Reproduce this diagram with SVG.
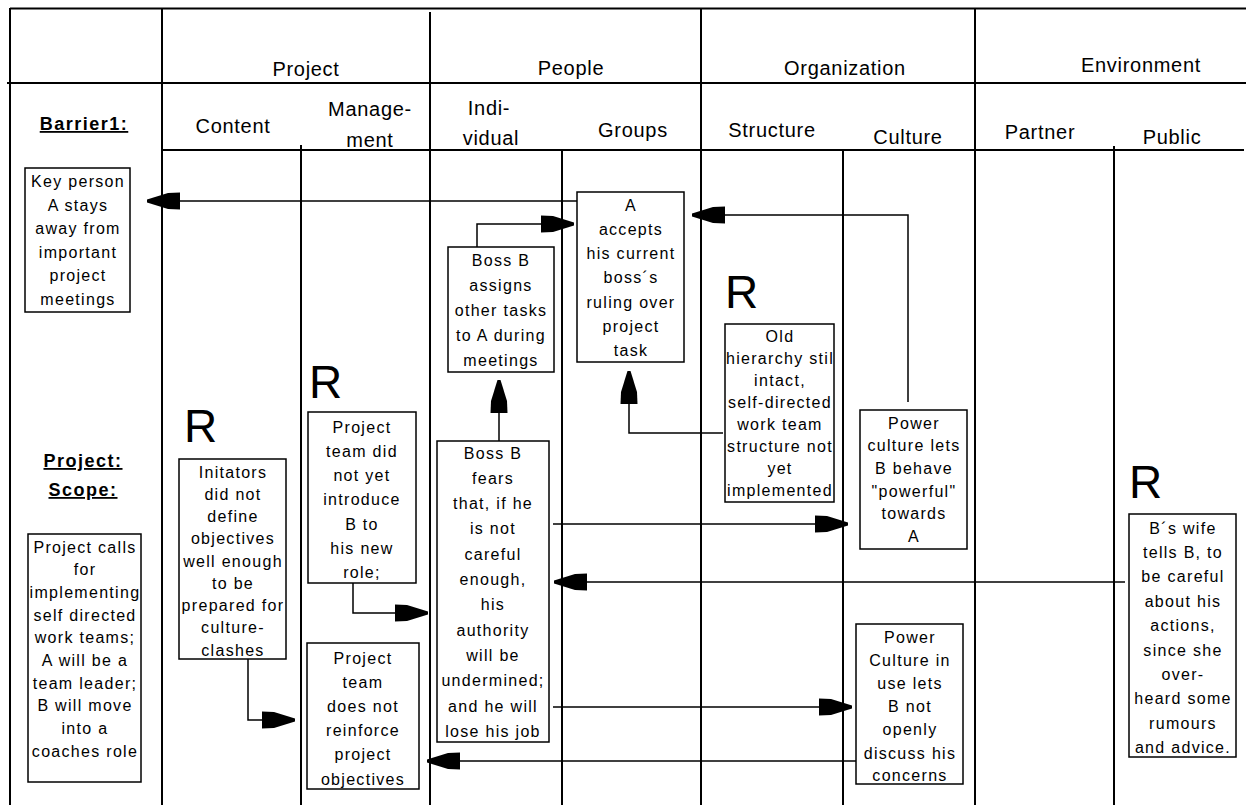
<svg xmlns="http://www.w3.org/2000/svg" width="1246" height="805" viewBox="0 0 1246 805">
<style>
.grid{stroke:#000;stroke-width:2;fill:none}
.box{fill:#fff;stroke:#000;stroke-width:1.5}
.conn{stroke:#000;stroke-width:1.5;fill:none;marker-end:url(#ah)}
text{font-family:"Liberation Sans",Arial,sans-serif;fill:#000}
.t{font-size:16px;letter-spacing:1.3px;text-anchor:middle}
.h{font-size:20px;letter-spacing:0.7px;text-anchor:middle}
.lbl{font-size:18px;font-weight:bold;letter-spacing:1.5px;text-anchor:middle;text-decoration:underline}
.r{font-size:46px}
</style>
<defs>
<marker id="ah" viewBox="0 -10 34 20" refX="33" refY="0" markerWidth="34" markerHeight="20" markerUnits="userSpaceOnUse" orient="auto">
<path d="M0,-8.5 L12,-8 L33,-1.5 L33,1.5 L12,8 L0,8.5 Z" fill="#000"/>
</marker>
</defs>
<rect width="1246" height="805" fill="#fff"/>
<g id="grid" class="grid">
<line x1="10" y1="8.5" x2="1246" y2="8.5"/>
<line x1="7" y1="83" x2="1246" y2="83"/>
<line x1="162" y1="150" x2="1244" y2="150"/>
<line x1="10" y1="8" x2="10" y2="805"/>
<line x1="162" y1="8" x2="162" y2="805"/>
<line x1="430" y1="12" x2="430" y2="805"/>
<line x1="701" y1="8" x2="701" y2="805"/>
<line x1="975" y1="8" x2="975" y2="805"/>
<line x1="301" y1="145" x2="301" y2="805"/>
<line x1="562" y1="150" x2="562" y2="805"/>
<line x1="843" y1="150" x2="843" y2="805"/>
<line x1="1114" y1="146" x2="1114" y2="805"/>
</g>
<g id="headers">
<text class="h" x="306" y="76">Project</text>
<text class="h" x="571" y="75">People</text>
<text class="h" x="845" y="75">Organization</text>
<text class="h" x="1141" y="72">Environment</text>
<text class="h" x="233" y="133">Content</text>
<text class="h" x="370" y="116">Manage-</text>
<text class="h" x="370" y="147">ment</text>
<text class="h" x="489" y="115">Indi-</text>
<text class="h" x="491" y="145">vidual</text>
<text class="h" x="633" y="137">Groups</text>
<text class="h" x="772" y="137">Structure</text>
<text class="h" x="908" y="144">Culture</text>
<text class="h" x="1040" y="139">Partner</text>
<text class="h" x="1172" y="144">Public</text>
<text class="lbl" x="84" y="130">Barrier1:</text>
<text class="lbl" x="83" y="467">Project:</text>
<text class="lbl" x="83" y="496">Scope:</text>
</g>
<g id="r-marks">
<text class="r" x="725" y="308">R</text>
<text class="r" x="309" y="398">R</text>
<text class="r" x="184" y="442">R</text>
<text class="r" x="1129" y="498">R</text>
</g>
<g id="connectors">
<path class="conn" d="M577,201 H147"/>
<path class="conn" d="M477,247 V224 H574"/>
<path class="conn" d="M908,402 V215 H692"/>
<path class="conn" d="M499,441 V380"/>
<path class="conn" d="M723,433 H629 V371"/>
<path class="conn" d="M553,524 H848"/>
<path class="conn" d="M1125,582 H554"/>
<path class="conn" d="M553,707 H852"/>
<path class="conn" d="M856,761 H427"/>
<path class="conn" d="M353,583 V613 H428"/>
<path class="conn" d="M248,659 V720 H295"/>
</g>
<g id="n-keyperson">
<rect class="box" x="25" y="168" width="105" height="144"/>
<text class="t"><tspan x="78" y="187">Key person</tspan><tspan x="78" y="210.5">A stays</tspan><tspan x="78" y="234">away from</tspan><tspan x="78" y="257.5">important</tspan><tspan x="78" y="281">project</tspan><tspan x="78" y="304.5">meetings</tspan></text>
</g>
<g id="n-assigns">
<rect class="box" x="448" y="247" width="106" height="125"/>
<text class="t"><tspan x="501" y="265.5">Boss B</tspan><tspan x="501" y="290.5">assigns</tspan><tspan x="501" y="315.5">other tasks</tspan><tspan x="501" y="340.5">to A during</tspan><tspan x="501" y="365.5">meetings</tspan></text>
</g>
<g id="n-accepts">
<rect class="box" x="577" y="192" width="107" height="170"/>
<text class="t"><tspan x="631" y="210.5">A</tspan><tspan x="631" y="234.8">accepts</tspan><tspan x="631" y="259">his current</tspan><tspan x="631" y="283.4">boss´s</tspan><tspan x="631" y="307.7">ruling over</tspan><tspan x="631" y="332">project</tspan><tspan x="631" y="356.3">task</tspan></text>
</g>
<g id="n-hierarchy">
<rect class="box" x="725" y="324" width="109" height="178"/>
<text class="t"><tspan x="780" y="342">Old</tspan><tspan x="780" y="364">hierarchy stil</tspan><tspan x="780" y="386">intact,</tspan><tspan x="780" y="408">self-directed</tspan><tspan x="780" y="430">work team</tspan><tspan x="780" y="452">structure not</tspan><tspan x="780" y="474">yet</tspan><tspan x="780" y="496">implemented</tspan></text>
</g>
<g id="n-powerful">
<rect class="box" x="860" y="410" width="107" height="139"/>
<text class="t"><tspan x="914" y="428.5">Power</tspan><tspan x="914" y="451">culture lets</tspan><tspan x="914" y="474">B behave</tspan><tspan x="914" y="496.5">"powerful"</tspan><tspan x="914" y="519">towards</tspan><tspan x="914" y="542">A</tspan></text>
</g>
<g id="n-wife">
<rect class="box" x="1129" y="514" width="107" height="243"/>
<text class="t"><tspan x="1183" y="533.5">B´s wife</tspan><tspan x="1183" y="557.9">tells B, to</tspan><tspan x="1183" y="582.3">be careful</tspan><tspan x="1183" y="606.7">about his</tspan><tspan x="1183" y="631.1">actions,</tspan><tspan x="1183" y="655.5">since she</tspan><tspan x="1183" y="679.9">over-</tspan><tspan x="1183" y="704.3">heard some</tspan><tspan x="1183" y="728.7">rumours</tspan><tspan x="1183" y="753">and advice.</tspan></text>
</g>
<g id="n-concerns">
<rect class="box" x="856" y="624" width="107" height="160"/>
<text class="t"><tspan x="910" y="642.5">Power</tspan><tspan x="910" y="665.7">Culture in</tspan><tspan x="910" y="688.9">use lets</tspan><tspan x="910" y="712.1">B not</tspan><tspan x="910" y="735.3">openly</tspan><tspan x="910" y="758.5">discuss his</tspan><tspan x="910" y="781">concerns</tspan></text>
</g>
<g id="n-fears">
<rect class="box" x="437" y="441" width="112" height="301"/>
<text class="t"><tspan x="493" y="458.5">Boss B</tspan><tspan x="493" y="483.8">fears</tspan><tspan x="493" y="509.1">that, if he</tspan><tspan x="493" y="534.4">is not</tspan><tspan x="493" y="559.7">careful</tspan><tspan x="493" y="585">enough,</tspan><tspan x="493" y="610.3">his</tspan><tspan x="493" y="635.6">authority</tspan><tspan x="493" y="660.9">will be</tspan><tspan x="493" y="686.2">undermined;</tspan><tspan x="493" y="711.5">and he will</tspan><tspan x="493" y="736.8">lose his job</tspan></text>
</g>
<g id="n-introduce">
<rect class="box" x="308" y="412" width="108" height="171"/>
<text class="t"><tspan x="362" y="432.5">Project</tspan><tspan x="362" y="456.8">team did</tspan><tspan x="362" y="481.1">not yet</tspan><tspan x="362" y="505.4">introduce</tspan><tspan x="362" y="529.7">B to</tspan><tspan x="362" y="554">his new</tspan><tspan x="362" y="578.3">role;</tspan></text>
</g>
<g id="n-initiators">
<rect class="box" x="179" y="459" width="107" height="200"/>
<text class="t"><tspan x="233" y="477.5">Initators</tspan><tspan x="233" y="499.8">did not</tspan><tspan x="233" y="522">define</tspan><tspan x="233" y="544.3">objectives</tspan><tspan x="233" y="566.5">well enough</tspan><tspan x="233" y="588.8">to be</tspan><tspan x="233" y="611">prepared for</tspan><tspan x="233" y="633.3">culture-</tspan><tspan x="233" y="655.5">clashes</tspan></text>
</g>
<g id="n-scope">
<rect class="box" x="28" y="534" width="113" height="248"/>
<text class="t"><tspan x="85" y="552.5">Project calls</tspan><tspan x="85" y="575.2">for</tspan><tspan x="85" y="597.9">implementing</tspan><tspan x="85" y="620.6">self directed</tspan><tspan x="85" y="643.3">work teams;</tspan><tspan x="85" y="666">A will be a</tspan><tspan x="85" y="688.7">team leader;</tspan><tspan x="85" y="711.4">B will move</tspan><tspan x="85" y="734.1">into a</tspan><tspan x="85" y="756.8">coaches role</tspan></text>
</g>
<g id="n-reinforce">
<rect class="box" x="307" y="643" width="112" height="146"/>
<text class="t"><tspan x="363" y="663.5">Project</tspan><tspan x="363" y="687.7">team</tspan><tspan x="363" y="711.9">does not</tspan><tspan x="363" y="736.1">reinforce</tspan><tspan x="363" y="760.3">project</tspan><tspan x="363" y="784.5">objectives</tspan></text>
</g>
</svg>
